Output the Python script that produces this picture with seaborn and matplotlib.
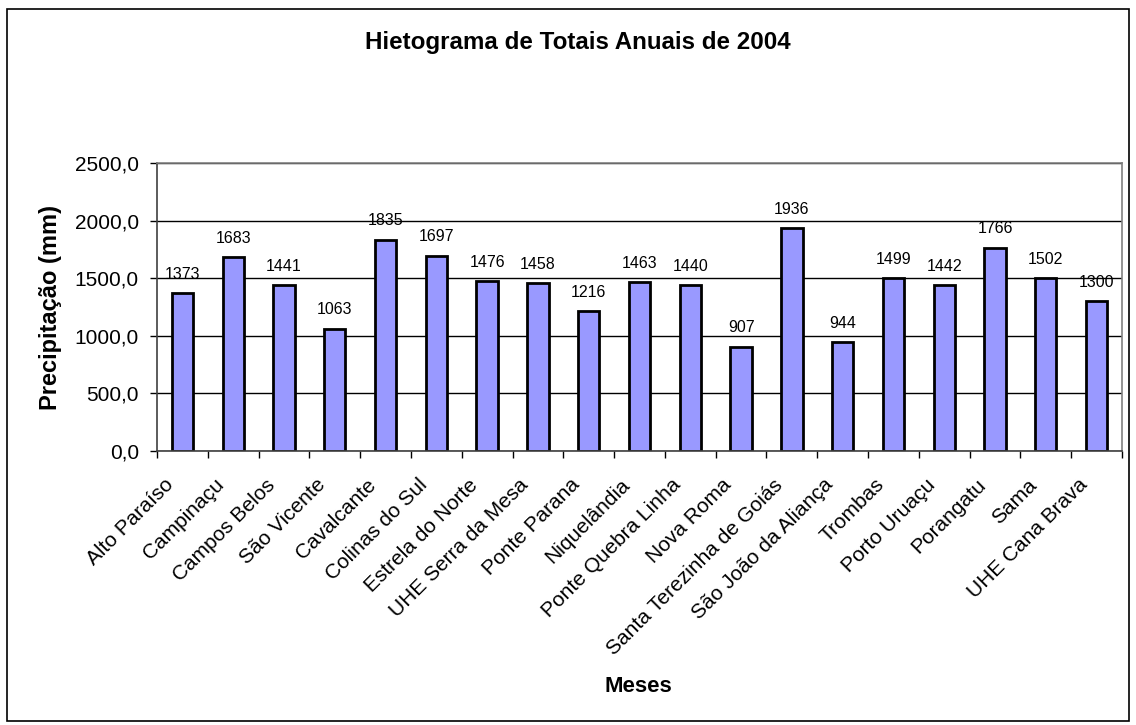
import numpy as np
import pandas as pd
import matplotlib
matplotlib.use("Agg")
import matplotlib.pyplot as plt
import matplotlib.transforms as mtransforms
import seaborn as sns
from matplotlib.ticker import FuncFormatter, FixedLocator
from matplotlib.patches import Rectangle

# data
estacoes = ["Alto Paraíso", "Campinaçu", "Campos Belos", "São Vicente", "Cavalcante",
            "Colinas do Sul", "Estrela do Norte", "UHE Serra da Mesa", "Ponte Parana",
            "Niquelândia", "Ponte Quebra Linha", "Nova Roma", "Santa Terezinha de Goiás",
            "São João da Aliança", "Trombas", "Porto Uruaçu", "Porangatu", "Sama",
            "UHE Cana Brava"]
totais = [1373, 1683, 1441, 1063, 1835, 1697, 1476, 1458, 1216, 1463,
          1440, 907, 1936, 944, 1499, 1442, 1766, 1502, 1300]
y_ticks = [0, 500, 1000, 1500, 2000, 2500]

df = pd.DataFrame({"estacao": estacoes, "total": totais})

sns.set_theme(style="white")
plt.rcParams['font.family'] = ['Liberation Sans', 'DejaVu Sans']
plt.rcParams['text.color'] = 'black'
plt.rcParams['xtick.color'] = 'black'
plt.rcParams['ytick.color'] = 'black'

fig = plt.figure(figsize=(11.36, 7.25), dpi=100)
ax = fig.add_axes([157 / 1136, 1 - 451 / 725, (1122 - 157) / 1136, (451 - 163) / 725])

sns.barplot(data=df, x="estacao", y="total", color="#9999FF", saturation=1,
            width=0.42, edgecolor="black", linewidth=2, ax=ax)

for i, v in enumerate(totais):
    ax.annotate(str(v), (i, v), xytext=(0, 8), textcoords="offset points",
                ha="center", va="bottom", fontsize=11.5, color="black")

ax.set_ylim(0, 2500)
ax.set_xlim(-0.5, len(estacoes) - 0.5)
ax.yaxis.set_major_locator(FixedLocator(y_ticks))
ax.yaxis.set_major_formatter(FuncFormatter(lambda v, p: f"{v:.1f}".replace(".", ",")))
ax.grid(axis="y", color="black", linewidth=1)
ax.set_axisbelow(True)

ax.set_xticks(range(len(estacoes)))
ax.set_xticklabels(estacoes, rotation=45, ha="right", rotation_mode="anchor", fontsize=15)
ax.tick_params(axis="x", which="major", length=0, pad=16)
ax.set_xticks(np.arange(-0.5, len(estacoes)), minor=True)
ax.tick_params(axis="x", which="minor", length=5, width=1, color="black", direction="out", bottom=True)
ax.tick_params(axis="y", length=5, width=1, color="black", direction="out", left=True, labelsize=15, pad=8)

# shift the rotated labels a bit to the left, like Excel does
shift = mtransforms.ScaledTranslation(-19 / 100, -2 / 100, fig.dpi_scale_trans)
for lbl in ax.get_xticklabels():
    lbl.set_transform(lbl.get_transform() + shift)

for s in ["top", "right"]:
    ax.spines[s].set_color("#808080")
    ax.spines[s].set_linewidth(1.2)
for s in ["left", "bottom"]:
    ax.spines[s].set_color("#404040")
    ax.spines[s].set_linewidth(1.2)

ax.set_xlabel("")
ax.set_ylabel("")
fig.text(51 / 1136, 1 - 307 / 725, "Precipitação (mm)", rotation=90, ha="center", va="center",
         fontsize=17, fontweight="bold")
fig.text(638 / 1136, 1 - 686 / 725, "Meses", ha="center", va="center",
         fontsize=16, fontweight="bold")
fig.text(578 / 1136, 1 - 43 / 725, "Hietograma de Totais Anuais de 2004", ha="center", va="center",
         fontsize=17.4, fontweight="bold")

fig.patches.append(Rectangle((7 / 1136, 4 / 725), 1122 / 1136, 712 / 725, transform=fig.transFigure,
                             fill=False, edgecolor="black", linewidth=1.2))

fig.savefig("out.png", dpi=100)
